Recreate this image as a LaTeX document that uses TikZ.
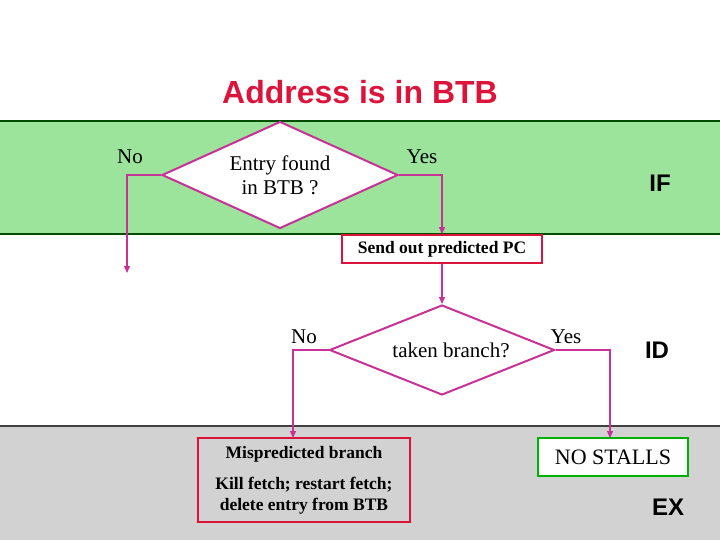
\documentclass[tikz,border=0pt]{standalone}
\usepackage{fontspec}
\setmainfont{Liberation Serif}
\setsansfont{Liberation Sans}
\usetikzlibrary{shapes.geometric,arrows.meta}
\definecolor{bandgreen}{RGB}{156,228,156}
\definecolor{bandgray}{RGB}{210,210,210}
\definecolor{linkcol}{RGB}{200,50,150}
\definecolor{titlered}{RGB}{220,20,60}
\tikzset{
  flow/.style={draw=linkcol,line width=1.3pt,-{Triangle[length=7pt,width=6pt]}},
  test/.style={diamond,draw=linkcol,line width=2pt,fill=white,inner sep=0pt,font=\fontsize{21}{24}\selectfont,align=center},
  act/.style={draw=titlered,line width=1.8pt,font=\bfseries\fontsize{17.5}{21}\selectfont,align=center},
  stage/.style={font=\sffamily\bfseries\fontsize{24}{28}\selectfont},
  answer/.style={font=\fontsize{21}{24}\selectfont}
}
\begin{document}
\begin{tikzpicture}[x=1pt,y=-1pt]
    \useasboundingbox (0,0) rectangle (720,540);

    % Stage bands
    \filldraw[fill=bandgreen,draw=black!70!green,line width=1.5pt] (-2,121) rectangle (722,234);
    \filldraw[fill=bandgray,draw=black!75,line width=1.5pt] (-2,426) rectangle (722,542);
    \node[stage] (sIF) at (660,183) {IF};
    \node[stage] (sID) at (657,350) {ID};
    \node[stage] (sEX) at (668,507) {EX};

    % Title
    \node[text=titlered,font=\sffamily\bfseries\fontsize{32}{38}\selectfont] (title) at (360,92) {Address is in BTB};

    % Tests
    \node[test,aspect=2.2,minimum width=236,minimum height=107] (inBtb) at (280,175) {Entry found\\in BTB ?};
    \node[test,aspect=2.5,minimum width=225,minimum height=90] (taken) at (442,350) {\hspace*{18pt}taken branch?};
    \node[answer] (no1) at (130,157) {No};
    \node[answer] (yes1) at (422,157) {Yes};
    \node[answer] (no2) at (304,337) {No};
    \node[answer] (yes2) at (566,337) {Yes};

    % Actions
    \node[act,fill=white,minimum width=200,minimum height=28,inner sep=2pt] (pc) at (442,249) {Send out predicted PC};
    \node[act,minimum width=212,minimum height=84] (mis) at (304,480) {Mispredicted branch\\[10pt]Kill fetch; restart fetch;\\delete entry from BTB};
    \node[draw=green!70!black,line width=2pt,fill=white,minimum width=150,minimum height=38,font=\fontsize{22}{26}\selectfont] (stall) at (613,457) {NO STALLS};
    \coordinate (noEnd) at (127,273);
    \coordinate (misTop) at (293,438);
    \coordinate (stallTop) at (610,438);

    % Connectors
    \draw[flow] (inBtb.west) -| (noEnd);
    \draw[flow] (inBtb.east) -| (pc.north);
    \draw[flow] (pc.south) -- (taken.north);
    \draw[flow] (taken.west) -| (misTop);
    \draw[flow] (taken.east) -| (stallTop);
\end{tikzpicture}
\end{document}
